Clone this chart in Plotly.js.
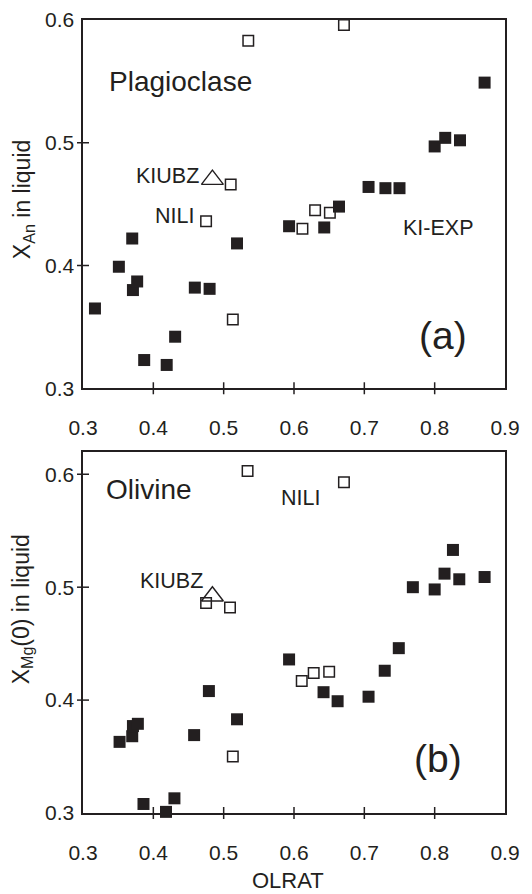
<!DOCTYPE html>
<html>
<head>
<meta charset="utf-8">
<script src="https://cdn.plot.ly/plotly-3.0.1.min.js"></script>
<style>html,body{margin:0;padding:0;background:#fff;}#chart{width:532px;height:894px;}#dbg{position:fixed;left:0;top:0;width:532px;font:10px monospace;white-space:pre-wrap;word-break:break-all;}</style>
</head>
<body>
<div id="chart"></div>
<div id="dbg"></div>
<script>
const dbg = document.getElementById('dbg');
window.onerror = function(m){ dbg.textContent += 'ERR ' + m + '\n'; };

// ---- Data ----
// (a) Plagioclase: KI-EXP experiments (filled squares)
const plagExpX = [0.317,0.351,0.370,0.371,0.377,0.387,0.419,0.431,0.459,0.480,0.519,0.593,0.643,0.664,0.706,0.730,0.750,0.800,0.815,0.836,0.871];
const plagExpY = [0.365,0.399,0.422,0.380,0.387,0.323,0.319,0.342,0.382,0.381,0.418,0.432,0.431,0.448,0.464,0.463,0.463,0.497,0.504,0.502,0.549];
// (a) Plagioclase: NILI (open squares)
const plagNiliX = [0.535,0.671,0.510,0.475,0.513,0.612,0.630,0.651];
const plagNiliY = [0.583,0.596,0.466,0.436,0.356,0.430,0.445,0.443];
// (a) Plagioclase: KIUBZ (open triangle)
const plagKiubzX = [0.484];
const plagKiubzY = [0.470];

// (b) Olivine: KI-EXP experiments (filled squares)
const olivExpX = [0.352,0.370,0.371,0.378,0.386,0.418,0.430,0.458,0.479,0.519,0.593,0.642,0.662,0.706,0.729,0.749,0.769,0.800,0.814,0.826,0.835,0.871];
const olivExpY = [0.363,0.368,0.377,0.379,0.308,0.301,0.313,0.369,0.408,0.383,0.436,0.407,0.399,0.403,0.426,0.446,0.500,0.498,0.512,0.533,0.507,0.509];
// (b) Olivine: NILI (open squares)
const olivNiliX = [0.534,0.671,0.475,0.509,0.513,0.611,0.628,0.650];
const olivNiliY = [0.603,0.593,0.486,0.482,0.350,0.417,0.424,0.425];
// (b) Olivine: KIUBZ (open triangle)
const olivKiubzX = [0.484];
const olivKiubzY = [0.492];

// Tick values / labels
const xTickVals = [0.3,0.4,0.5,0.6,0.7,0.8,0.9];
const xTickText = ['0.3','0.4','0.5','0.6','0.7','0.8','0.9'];
const xInnerTicks = [0.4,0.5,0.6,0.7,0.8];
const yTopTickVals = [0.3,0.4,0.5,0.6];
const yTopTickText = ['0.3','0.4','0.5','0.6'];
const yTopInnerTicks = [0.4,0.5];
const yBotTickVals = [0.3,0.4,0.5,0.6];
const yBotTickText = ['0.3','0.4','0.5','0.6'];
const yBotInnerTicks = [0.4,0.5,0.6];

// ---- Styling ----
const INK = '#231f20';
const FONT = 'Liberation Sans, Arial, Helvetica, sans-serif';

function filled(x, y, xa, ya) {
  return {x: x, y: y, xaxis: xa, yaxis: ya, type: 'scatter', mode: 'markers', cliponaxis: false,
    marker: {symbol: 'square', size: 12, color: INK, line: {width: 0}}, hoverinfo: 'skip', showlegend: false};
}
function open(x, y, xa, ya) {
  return {x: x, y: y, xaxis: xa, yaxis: ya, type: 'scatter', mode: 'markers', cliponaxis: false,
    marker: {symbol: 'square-open', size: 10.5, color: INK, line: {width: 1.5, color: INK}}, hoverinfo: 'skip', showlegend: false};
}
function tri(x, y, xa, ya) {
  return {x: x, y: y, xaxis: xa, yaxis: ya, type: 'scatter', mode: 'markers', cliponaxis: false,
    marker: {symbol: 'triangle-up-open', size: 19, color: INK, line: {width: 1.4, color: INK}}, hoverinfo: 'skip', showlegend: false};
}

const data = [
  filled(plagExpX, plagExpY, 'x', 'y'),
  open(plagNiliX, plagNiliY, 'x', 'y'),
  tri(plagKiubzX, plagKiubzY, 'x', 'y'),
  filled(olivExpX, olivExpY, 'x2', 'y2'),
  open(olivNiliX, olivNiliY, 'x2', 'y2'),
  tri(olivKiubzX, olivKiubzY, 'x2', 'y2')
];

function mainAxis(extra) {
  return Object.assign({
    showline: true, mirror: true, linecolor: INK, linewidth: 1.6,
    showgrid: false, zeroline: false, fixedrange: true,
    tickfont: {family: FONT, size: 21, color: INK}, tickmode: 'array'
  }, extra);
}
// x axes: invisible long ticks push the labels down like the reference
const xLabelPush = {ticks: 'outside', ticklen: 20, tickcolor: 'rgba(0,0,0,0)', tickwidth: 1};
const yLabelPush = {ticks: 'outside', ticklen: 3, tickcolor: 'rgba(0,0,0,0)', tickwidth: 1};

// Tick marks that cross the axis line (drawn at the tick values, in pixel length)
const TICK_HALF = 6;
function xTickShapes(vals, xref, yref) {
  return vals.map(v => ({type: 'line', xref: xref, yref: yref + ' domain', x0: v, x1: v,
    ysizemode: 'pixel', yanchor: 0, y0: -TICK_HALF, y1: TICK_HALF, line: {color: INK, width: 1.5}}));
}
function yTickShapes(vals, xref, yref) {
  return vals.map(v => ({type: 'line', xref: xref + ' domain', yref: yref, y0: v, y1: v,
    xsizemode: 'pixel', xanchor: 0, x0: -TICK_HALF, x1: TICK_HALF, line: {color: INK, width: 1.5}}));
}

const TOP_DOM = [0.5356, 1];
const BOT_DOM = [0, 0.4556];

const layout = {
  width: 532, height: 894,
  margin: {l: 83, r: 27, t: 20, b: 81},
  paper_bgcolor: '#ffffff', plot_bgcolor: '#ffffff',
  font: {family: FONT, color: INK},
  showlegend: false,
  xaxis: mainAxis(Object.assign({domain: [0, 1], anchor: 'y', range: [0.3, 0.9], tickvals: xTickVals, ticktext: xTickText}, xLabelPush)),
  yaxis: mainAxis(Object.assign({domain: TOP_DOM, anchor: 'x', range: [0.3, 0.6], tickvals: yTopTickVals, ticktext: yTopTickText}, yLabelPush)),
  xaxis2: mainAxis(Object.assign({domain: [0, 1], anchor: 'y2', range: [0.3, 0.9], tickvals: xTickVals, ticktext: xTickText}, xLabelPush)),
  yaxis2: mainAxis(Object.assign({domain: BOT_DOM, anchor: 'x2', range: [0.3, 0.62], tickvals: yBotTickVals, ticktext: yBotTickText}, yLabelPush)),
  shapes: [].concat(
    xTickShapes(xInnerTicks, 'x', 'y'),
    yTickShapes(yTopInnerTicks, 'x', 'y'),
    xTickShapes(xInnerTicks, 'x2', 'y2'),
    yTickShapes(yBotInnerTicks, 'x2', 'y2')
  ),
  annotations: [
    // panel (a)
    {text: 'Plagioclase', xref: 'x', yref: 'y', x: 0.334, y: 0.550, xanchor: 'left', yanchor: 'middle', showarrow: false, font: {size: 28, family: FONT, color: INK}},
    {text: 'KIUBZ', xref: 'x', yref: 'y', x: 0.468, y: 0.4726, xanchor: 'right', yanchor: 'middle', showarrow: false, font: {size: 21.5, family: FONT, color: INK}},
    {text: 'NILI', xref: 'x', yref: 'y', x: 0.460, y: 0.4403, xanchor: 'right', yanchor: 'middle', showarrow: false, font: {size: 21.5, family: FONT, color: INK}},
    {text: 'KI-EXP', xref: 'x', yref: 'y', x: 0.805, y: 0.4308, xanchor: 'center', yanchor: 'middle', showarrow: false, font: {size: 21.5, family: FONT, color: INK}},
    {text: '(a)', xref: 'x', yref: 'y', x: 0.812, y: 0.343, xanchor: 'center', yanchor: 'middle', showarrow: false, font: {size: 39, family: FONT, color: INK}},
    {text: 'X<sub>An</sub> in liquid', xref: 'paper', yref: 'y domain', x: 0, y: 0.5, xshift: -60, yshift: 4, xanchor: 'center', yanchor: 'middle', textangle: -90, showarrow: false, font: {size: 23, family: FONT, color: INK}},
    // panel (b)
    {text: 'Olivine', xref: 'x2', yref: 'y2', x: 0.330, y: 0.5863, xanchor: 'left', yanchor: 'middle', showarrow: false, font: {size: 28, family: FONT, color: INK}},
    {text: 'NILI', xref: 'x2', yref: 'y2', x: 0.578, y: 0.579, xanchor: 'left', yanchor: 'middle', showarrow: false, font: {size: 21.5, family: FONT, color: INK}},
    {text: 'KIUBZ', xref: 'x2', yref: 'y2', x: 0.4734, y: 0.5056, xanchor: 'right', yanchor: 'middle', showarrow: false, font: {size: 21.5, family: FONT, color: INK}},
    {text: '(b)', xref: 'x2', yref: 'y2', x: 0.805, y: 0.3483, xanchor: 'center', yanchor: 'middle', showarrow: false, font: {size: 39, family: FONT, color: INK}},
    {text: 'X<sub>Mg</sub>(0) in liquid', xref: 'paper', yref: 'y2 domain', x: 0, y: 0.5, xshift: -61, yshift: 23, xanchor: 'center', yanchor: 'middle', textangle: -90, showarrow: false, font: {size: 23, family: FONT, color: INK}},
    {text: 'OLRAT', xref: 'x2 domain', yref: 'paper', x: 0.486, y: 0, yshift: -67, xanchor: 'center', yanchor: 'middle', showarrow: false, font: {size: 22, family: FONT, color: INK}}
  ]
};

Plotly.newPlot('chart', data, layout, {staticPlot: true, displayModeBar: false}).then(function(gd){
  const p = gd.querySelector('path.xlines-above');
  const s = gd.querySelectorAll('.shapelayer path');
  if (!p || !p.getAttribute('d') || s.length === 0) {
    dbg.textContent += 'lines: ' + (p ? p.getAttribute('d') : 'none') + ' shapes: ' + s.length + '\n';
  }
}).catch(function(e){ dbg.textContent += 'CATCH ' + e + '\n' + (e.stack || ''); });
</script>
</body>
</html>
